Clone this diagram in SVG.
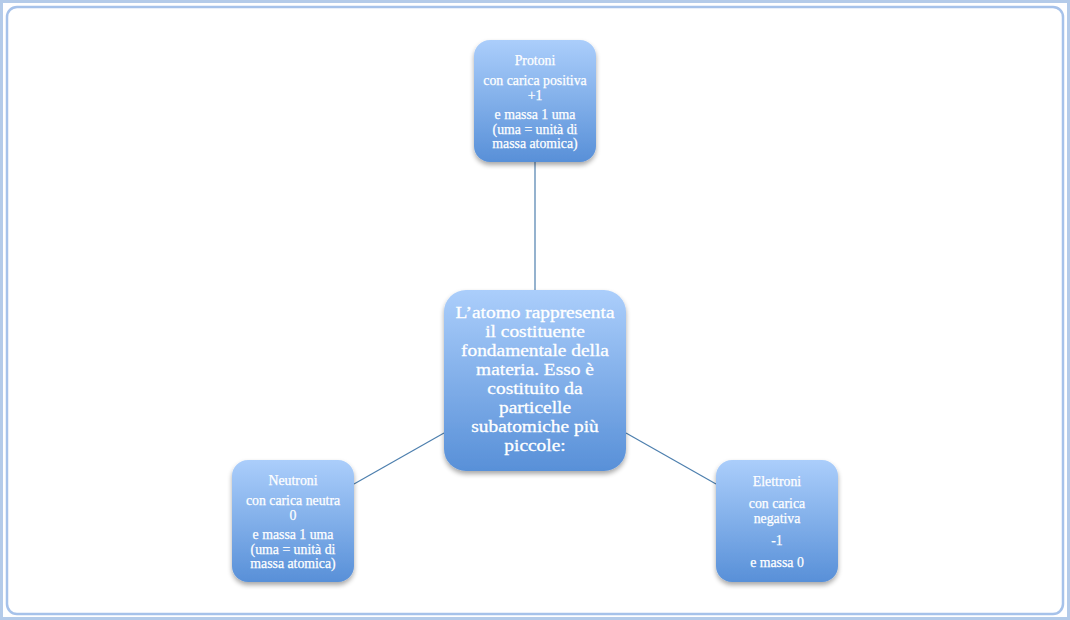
<svg xmlns="http://www.w3.org/2000/svg" width="1070" height="620" viewBox="0 0 1070 620">
<defs>
<linearGradient id="g" x1="0" y1="0" x2="0" y2="1">
<stop offset="0" stop-color="#abcefb"/>
<stop offset="1" stop-color="#5890d8"/>
</linearGradient>
<filter id="sh" x="-20%" y="-20%" width="140%" height="140%">
<feGaussianBlur in="SourceAlpha" stdDeviation="2.5"/>
<feOffset dx="0" dy="3" result="b"/>
<feComponentTransfer><feFuncA type="linear" slope="0.35"/></feComponentTransfer>
<feMerge><feMergeNode/><feMergeNode in="SourceGraphic"/></feMerge>
</filter>
<style>
.box{fill:url(#g);filter:url(#sh);}
.t{font-family:"Liberation Serif","DejaVu Serif",serif;fill:#ffffff;stroke:#ffffff;stroke-width:0.25;text-anchor:middle;font-size:13.8px;}
.c{font-size:17px;stroke-width:0.3;}
.ln{stroke:#4d7fae;stroke-width:1.2;fill:none;}
</style>
</defs>
<rect x="0" y="0" width="1070" height="620" fill="#ffffff"/>
<rect x="1.5" y="1.5" width="1067" height="617" fill="none" stroke="#b4cbe9" stroke-width="3"/>
<rect x="7" y="7" width="1056" height="607" rx="10" fill="#ffffff" stroke="#a6c2ea" stroke-width="2.5"/>
<g id="connectors">
<line class="ln" x1="535" y1="162" x2="535" y2="290"/>
<line class="ln" x1="354" y1="484" x2="444" y2="433"/>
<line class="ln" x1="626" y1="433" x2="716" y2="484"/>
</g>
<g id="protoni">
<rect class="box" x="474" y="40" width="122" height="122" rx="16"/>
<text class="t" x="535" y="64.5">Protoni</text>
<text class="t" x="535" y="84.5">con carica positiva</text>
<text class="t" x="535" y="99.5">+1</text>
<text class="t" x="535" y="118.5">e massa 1 uma</text>
<text class="t" x="535" y="133.5">(uma = unità di</text>
<text class="t" x="535" y="147.5">massa atomica)</text>
</g>
<g id="atomo">
<rect class="box" x="444" y="290" width="182" height="181" rx="22"/>
<g transform="translate(535,0) scale(1.14,1) translate(-535,0)">
<text class="t c" x="535" y="318.5">L’atomo rappresenta</text>
<text class="t c" x="535" y="337.5">il costituente</text>
<text class="t c" x="535" y="356.5">fondamentale della</text>
<text class="t c" x="535" y="375.5">materia. Esso è</text>
<text class="t c" x="535" y="394.5">costituito da</text>
<text class="t c" x="535" y="413.5">particelle</text>
<text class="t c" x="535" y="432.5">subatomiche più</text>
<text class="t c" x="535" y="451.5">piccole:</text>
</g>
</g>
<g id="neutroni">
<rect class="box" x="232" y="460" width="122" height="122" rx="16"/>
<text class="t" x="293" y="484.5">Neutroni</text>
<text class="t" x="293" y="504.5">con carica neutra</text>
<text class="t" x="293" y="519.5">0</text>
<text class="t" x="293" y="538.5">e massa 1 uma</text>
<text class="t" x="293" y="553.5">(uma = unità di</text>
<text class="t" x="293" y="567.5">massa atomica)</text>
</g>
<g id="elettroni">
<rect class="box" x="716" y="460" width="122" height="122" rx="16"/>
<text class="t" x="777" y="485.5">Elettroni</text>
<text class="t" x="777" y="507.5">con carica</text>
<text class="t" x="777" y="522.5">negativa</text>
<text class="t" x="777" y="544.5">-1</text>
<text class="t" x="777" y="566.5">e massa 0</text>
</g>
</svg>
